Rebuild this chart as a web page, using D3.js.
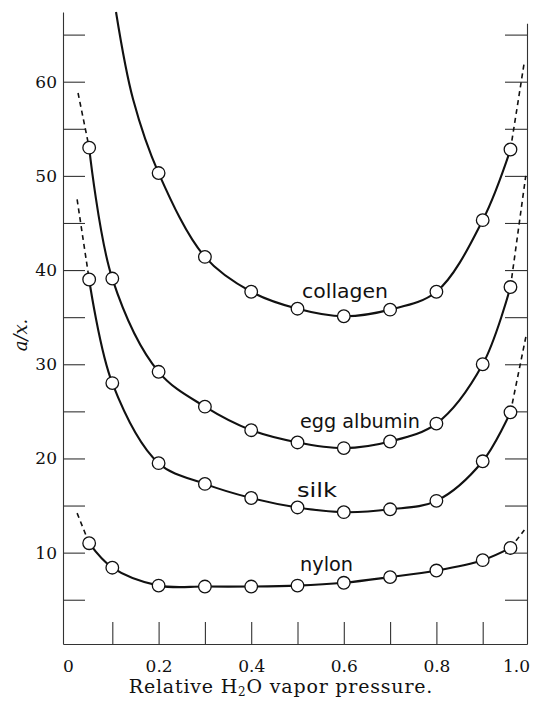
<!DOCTYPE html>
<html>
<head>
<meta charset="utf-8">
<script src="https://cdn.jsdelivr.net/npm/d3@7"></script>
<style>
  body { margin: 0; background: #fff; }
  svg { display: block; }
</style>
</head>
<body>
<div id="chart"></div>
<script>
// relative vapor pressure at which each sample was weighed
var pressure = [0.05, 0.1, 0.2, 0.3, 0.4, 0.5, 0.6, 0.7, 0.8, 0.9, 0.96];
var collagenP = [0.2, 0.3, 0.4, 0.5, 0.6, 0.7, 0.8, 0.9, 0.96];

var collagen = [50.3, 41.4, 37.7, 35.9, 35.1, 35.8, 37.7, 45.3, 52.8];
var eggAlbumin = [53.0, 39.1, 29.2, 25.5, 23.0, 21.7, 21.1, 21.8, 23.7, 30.0, 38.2];
var silk = [39.0, 28.0, 19.5, 17.3, 15.8, 14.8, 14.3, 14.6, 15.5, 19.7, 24.9];
var nylon = [11.0, 8.4, 6.5, 6.4, 6.4, 6.5, 6.8, 7.4, 8.1, 9.2, 10.5];

// solid run of the collagen curve above the top of the frame
var collagenTop = [[0.108, 67.4], [0.145, 58.1]];

// dashed extrapolations: [end at low pressure], [end at high pressure]
var eggLeft = [0.026, 58.8];
var silkLeft = [0.024, 47.5];
var nylonLeft = [0.024, 14.2];
var collagenRight = [0.989, 61.8];
var eggRight = [0.993, 50.0];
var silkRight = [0.994, 33.1];
var nylonRight = [0.990, 12.4];

var yTicks = [5, 10, 15, 20, 25, 30, 35, 40, 45, 50, 55, 60, 65];
var xTicks = [0.1, 0.2, 0.3, 0.4, 0.5, 0.6, 0.7, 0.8, 0.9];
var xLabels = [0, 0.2, 0.4, 0.6, 0.8, 1.0];

function init() {
    var w = 533, h = 701;
    var svg = d3.select("#chart").append("svg")
        .attr("width", w).attr("height", h);

    var x = d3.scaleLinear().domain([-0.0065, 0.9957]).range([63, 527]);
    var y = d3.scaleLinear().domain([0.3, 67.4]).range([644, 12]);
    var yRight = y.copy().domain([0.3, 66.2]).range([644, y(66.2)]); // right frame stops a bit lower

    var serif = "'DejaVu Serif', 'Liberation Serif', serif";
    var axisColor = "#333";

    // left axis with labels every 10
    var left = svg.append("g")
        .attr("transform", "translate(63,0)")
        .call(d3.axisLeft(y).tickValues(yTicks).tickSize(-22).tickSizeOuter(0).tickPadding(6)
            .tickFormat(function(d) { return d % 10 === 0 ? d : ""; }));

    // right axis, ticks only
    var right = svg.append("g")
        .attr("transform", "translate(527,0)")
        .call(d3.axisRight(yRight).tickValues(yTicks).tickSize(-22).tickSizeOuter(0).tickFormat(""));

    // bottom axis ticks
    var bottom = svg.append("g")
        .attr("transform", "translate(0,644)")
        .call(d3.axisBottom(x).tickValues(xTicks).tickSize(-22).tickSizeOuter(0).tickFormat(""));

    // bottom labels (no tick marks at 0 and 1.0)
    var bottomLabels = svg.append("g")
        .attr("transform", "translate(0,644)")
        .call(d3.axisBottom(x).tickValues(xLabels).tickSize(0).tickPadding(16)
            .tickFormat(function(d) { return d === 0 ? "0" : d3.format(".1f")(d); }));
    bottomLabels.select(".domain").remove();
    bottomLabels.selectAll(".tick text").filter(function(d) { return d === 1; }).attr("dx", -13);
    bottomLabels.selectAll(".tick text").filter(function(d) { return d === 0; }).attr("dx", 2);

    [left, right, bottom, bottomLabels].forEach(function(g) {
        g.selectAll(".domain").attr("stroke", axisColor).attr("stroke-width", 1.1);
        g.selectAll(".tick line").attr("stroke", axisColor).attr("stroke-width", 1.1);
        g.selectAll(".tick text").attr("font-family", serif).attr("font-size", 17)
            .attr("fill", "#111");
    });

    // axis titles
    var title = svg.append("text")
        .attr("x", 281).attr("y", 693)
        .attr("text-anchor", "middle")
        .attr("font-family", serif).attr("font-size", 19)
        .attr("letter-spacing", 0.8)
        .attr("fill", "#111");
    title.append("tspan").text("Relative H");
    title.append("tspan").attr("font-size", 12).attr("dy", 3).text("2");
    title.append("tspan").attr("dy", -3).text("O vapor pressure.");

    svg.append("text")
        .attr("transform", "translate(27,335) rotate(-90)")
        .attr("text-anchor", "middle")
        .attr("font-family", serif).attr("font-style", "italic").attr("font-size", 18)
        .attr("fill", "#111")
        .text("a/x.");

    var line = d3.line()
        .x(function(d) { return x(d[0]); })
        .y(function(d) { return y(d[1]); })
        .curve(d3.curveCatmullRom.alpha(0.5));

    var series = [
        { name: "collagen", pts: d3.zip(collagenP, collagen), head: collagenTop, left: null, right: collagenRight },
        { name: "egg albumin", pts: d3.zip(pressure, eggAlbumin), head: [], left: eggLeft, right: eggRight },
        { name: "silk", pts: d3.zip(pressure, silk), head: [], left: silkLeft, right: silkRight },
        { name: "nylon", pts: d3.zip(pressure, nylon), head: [], left: nylonLeft, right: nylonRight }
    ];

    var plot = svg.append("g");

    series.forEach(function(s) {
        plot.append("path")
            .attr("d", line(s.head.concat(s.pts)))
            .attr("fill", "none").attr("stroke", "#111").attr("stroke-width", 2.1);

        var dashed = [];
        if (s.left) dashed.push([s.left, s.pts[0]]);
        if (s.right) dashed.push([s.pts[s.pts.length - 1], s.right]);
        dashed.forEach(function(seg) {
            plot.append("path")
                .attr("d", d3.line().x(function(d) { return x(d[0]); }).y(function(d) { return y(d[1]); })(seg))
                .attr("fill", "none").attr("stroke", "#111").attr("stroke-width", 1.6)
                .attr("stroke-dasharray", "5,4");
        });
    });

    series.forEach(function(s) {
        plot.selectAll(null)
            .data(s.pts)
            .enter()
            .append("circle")
            .attr("cx", function(d) { return x(d[0]); })
            .attr("cy", function(d) { return y(d[1]); })
            .attr("r", 6.3)
            .attr("fill", "#fff").attr("stroke", "#111").attr("stroke-width", 1.3);
    });

    // hand-lettered curve names
    var labels = [
        { text: "collagen", x: 302, y: 298, len: 86 },
        { text: "egg albumin", x: 300, y: 428, len: 120 },
        { text: "silk", x: 297, y: 497, len: 40 },
        { text: "nylon", x: 300, y: 571, len: 53 }
    ];
    svg.selectAll(".lbl")
        .data(labels)
        .enter()
        .append("text")
        .attr("class", "lbl")
        .attr("x", function(d) { return d.x; })
        .attr("y", function(d) { return d.y; })
        .attr("textLength", function(d) { return d.len; })
        .attr("lengthAdjust", "spacingAndGlyphs")
        .attr("font-family", "'DejaVu Sans', sans-serif")
        .attr("font-size", 20)
        .attr("fill", "#111")
        .text(function(d) { return d.text; });
}

window.onload = init;
</script>
</body>
</html>
